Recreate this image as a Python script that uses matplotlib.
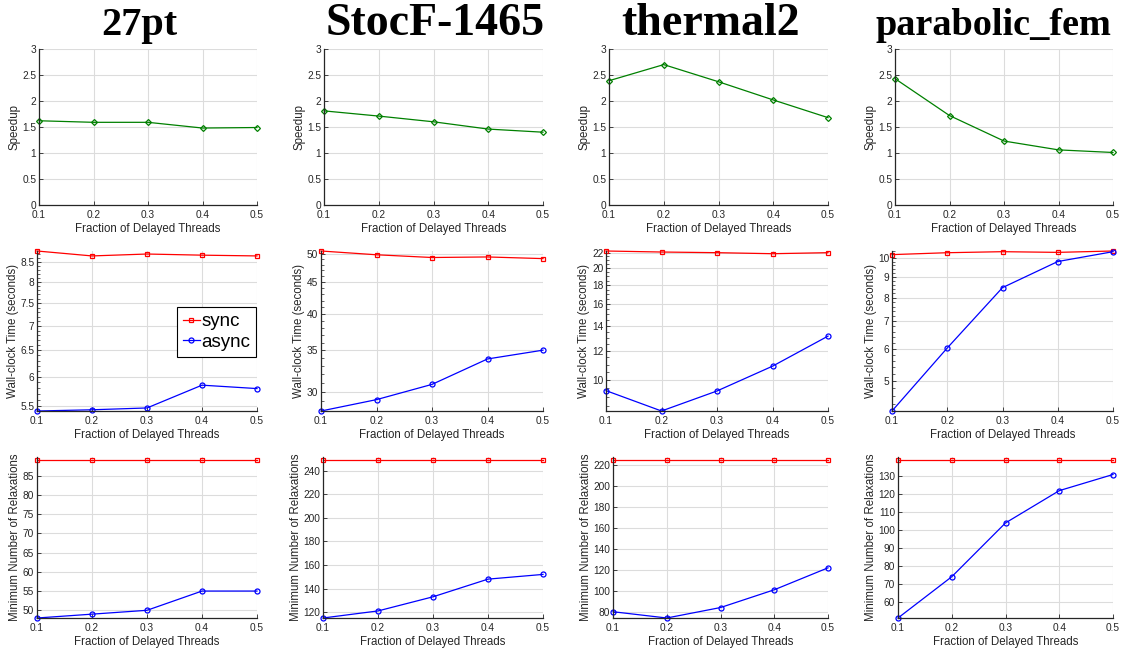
import matplotlib
matplotlib.use("Agg")
import matplotlib.pyplot as plt
from matplotlib.ticker import FixedLocator, MultipleLocator, NullFormatter, FuncFormatter

plt.rcParams['font.family'] = ['Liberation Sans', 'DejaVu Sans']

# ---------------------------------------------------------------- data
fractions = [0.1, 0.2, 0.3, 0.4, 0.5]
matrices = ["27pt", "StocF-1465", "thermal2", "parabolic_fem"]

speedup_27pt = [1.62, 1.59, 1.59, 1.48, 1.49]
speedup_stocf = [1.81, 1.71, 1.60, 1.46, 1.40]
speedup_thermal2 = [2.39, 2.70, 2.37, 2.02, 1.68]
speedup_parabolic = [2.43, 1.72, 1.23, 1.06, 1.01]

sync_time_27pt = [8.78, 8.65, 8.70, 8.67, 8.65]
async_time_27pt = [5.41, 5.43, 5.46, 5.85, 5.79]
sync_time_stocf = [50.5, 49.8, 49.3, 49.4, 49.1]
async_time_stocf = [27.95, 29.15, 30.84, 33.88, 35.0]
sync_time_thermal2 = [22.23, 22.09, 22.0, 21.86, 22.0]
async_time_thermal2 = [9.36, 8.25, 9.34, 10.89, 13.12]
sync_time_parabolic = [10.19, 10.30, 10.36, 10.32, 10.40]
async_time_parabolic = [4.22, 6.02, 8.46, 9.80, 10.36]

sync_relax_27pt = [89, 89, 89, 89, 89]
async_relax_27pt = [48, 49, 50, 55, 55]
sync_relax_stocf = [249, 249, 249, 249, 249]
async_relax_stocf = [115, 121, 133, 148, 152]
sync_relax_thermal2 = [225, 225, 225, 225, 225]
async_relax_thermal2 = [80, 74, 84, 101, 122]
sync_relax_parabolic = [139, 139, 139, 139, 139]
async_relax_parabolic = [51, 74, 104, 122, 131]

x_ticks = [0.1, 0.2, 0.3, 0.4, 0.5]
speedup_ticks = [0, 0.5, 1, 1.5, 2, 2.5, 3]
time_ticks_27pt = [5.5, 6, 6.5, 7, 7.5, 8, 8.5]
time_ticks_stocf = [30, 35, 40, 45, 50]
time_ticks_thermal2 = [10, 12, 14, 16, 18, 20, 22]
time_ticks_parabolic = [5, 6, 7, 8, 9, 10]
relax_ticks_27pt = [50, 55, 60, 65, 70, 75, 80, 85]
relax_ticks_stocf = [120, 140, 160, 180, 200, 220, 240]
relax_ticks_thermal2 = [80, 100, 120, 140, 160, 180, 200, 220]
relax_ticks_parabolic = [60, 70, 80, 90, 100, 110, 120, 130]

speedups = [speedup_27pt, speedup_stocf, speedup_thermal2, speedup_parabolic]
sync_times = [sync_time_27pt, sync_time_stocf, sync_time_thermal2, sync_time_parabolic]
async_times = [async_time_27pt, async_time_stocf, async_time_thermal2, async_time_parabolic]
sync_relax = [sync_relax_27pt, sync_relax_stocf, sync_relax_thermal2, sync_relax_parabolic]
async_relax = [async_relax_27pt, async_relax_stocf, async_relax_thermal2, async_relax_parabolic]
time_ticks = [time_ticks_27pt, time_ticks_stocf, time_ticks_thermal2, time_ticks_parabolic]
time_minor_step = [0.1, 1, 0.5, 0.2]
relax_ticks = [relax_ticks_27pt, relax_ticks_stocf, relax_ticks_thermal2, relax_ticks_parabolic]

# ---------------------------------------------------------------- layout (pixels)
W, H = 1130, 651
lefts = [[39, 324, 609, 895], [37, 321, 606, 892], [37, 323, 613, 898]]
rights = [257, 543, 828, 1113]
tops = [49, 251, 457]
bottoms = [205, 411, 618]
title_x = [139, 435, 711, 993]
title_size = [29, 33, 33, 27.5]

INK = '#262626'
GREEN = '#008000'
RED = '#ff0000'
BLUE = '#0000ff'

fig = plt.figure(figsize=(W / 100, H / 100), dpi=100)
fmt = FuncFormatter(lambda v, p: '%g' % v)


def style(ax):
    ax.grid(True, which='major', color='#dcdcdc', linewidth=0.8)
    ax.set_axisbelow(True)
    for s in ('top', 'right'):
        ax.spines[s].set_visible(False)
    for s in ('left', 'bottom'):
        ax.spines[s].set_color(INK)
        ax.spines[s].set_linewidth(0.9)
    ax.tick_params(which='major', direction='in', length=3, width=0.6,
                   colors=INK, labelsize=7.3)
    ax.tick_params(axis='x', which='major', pad=3.5)
    ax.tick_params(axis='y', which='major', pad=2)
    ax.tick_params(which='minor', direction='in', length=1.8, width=0.5, colors=INK)
    ax.set_xlim(0.1, 0.5)
    ax.xaxis.set_major_locator(FixedLocator(x_ticks))
    ax.xaxis.set_major_formatter(fmt)
    ax.set_xlabel('Fraction of Delayed Threads', fontsize=8.3, color=INK, labelpad=2)


def make_ax(r, c):
    l = lefts[r][c]
    ax = fig.add_axes([l / W, 1 - bottoms[r] / H,
                       (rights[c] - l) / W, (bottoms[r] - tops[r]) / H])
    style(ax)
    return ax


line_kw = dict(linewidth=0.9, markerfacecolor='none', markeredgewidth=0.9, clip_on=False)
ylabel_kw = dict(fontsize=8.3, color=INK, labelpad=1)

for c in range(4):
    # speedup
    ax = make_ax(0, c)
    ax.plot(fractions, speedups[c], color=GREEN, marker='D', markersize=3.0, **line_kw)
    ax.set_ylim(0, 3)
    ax.yaxis.set_major_locator(FixedLocator(speedup_ticks))
    ax.yaxis.set_major_formatter(fmt)
    ax.set_ylabel('Speedup', **ylabel_kw)

    # wall-clock time (log scale)
    ax = make_ax(1, c)
    ax.set_yscale('log')
    h1, = ax.plot(fractions, sync_times[c], color=RED, marker='s', markersize=3.4,
                  label='sync', **line_kw)
    h2, = ax.plot(fractions, async_times[c], color=BLUE, marker='o', markersize=3.6,
                  label='async', **line_kw)
    ax.set_ylim(min(async_times[c]), max(sync_times[c]))
    ax.yaxis.set_major_locator(FixedLocator(time_ticks[c]))
    ax.yaxis.set_major_formatter(fmt)
    ax.yaxis.set_minor_locator(MultipleLocator(time_minor_step[c]))
    ax.yaxis.set_minor_formatter(NullFormatter())
    ax.set_ylabel('Wall-clock Time (seconds)', **ylabel_kw)
    if c == 0:
        leg = ax.legend(handles=[h1, h2], loc='center', bbox_to_anchor=(0.816, 0.494),
                        fontsize=13.5, handlelength=0.9, handletextpad=0.08,
                        borderpad=0.3, labelspacing=0.2, borderaxespad=0,
                        fancybox=False, framealpha=1, edgecolor='black')
        leg.get_frame().set_linewidth(0.8)

    # relaxations (linear)
    ax = make_ax(2, c)
    ax.plot(fractions, sync_relax[c], color=RED, marker='s', markersize=3.4, **line_kw)
    ax.plot(fractions, async_relax[c], color=BLUE, marker='o', markersize=3.6, **line_kw)
    lo = min(async_relax[c])
    hi = max(sync_relax[c])
    ax.set_ylim(lo, hi + 0.02 * (hi - lo))
    ax.yaxis.set_major_locator(FixedLocator(relax_ticks[c]))
    ax.yaxis.set_major_formatter(fmt)
    ax.set_ylabel('Minimum Number of Relaxations', **ylabel_kw)

    fig.text(title_x[c] / W, 1 - 35 / H, matrices[c], ha='center', va='baseline',
             fontsize=title_size[c], fontweight='bold',
             family=['Liberation Serif', 'DejaVu Serif'])

fig.savefig('out.png', dpi=100)
